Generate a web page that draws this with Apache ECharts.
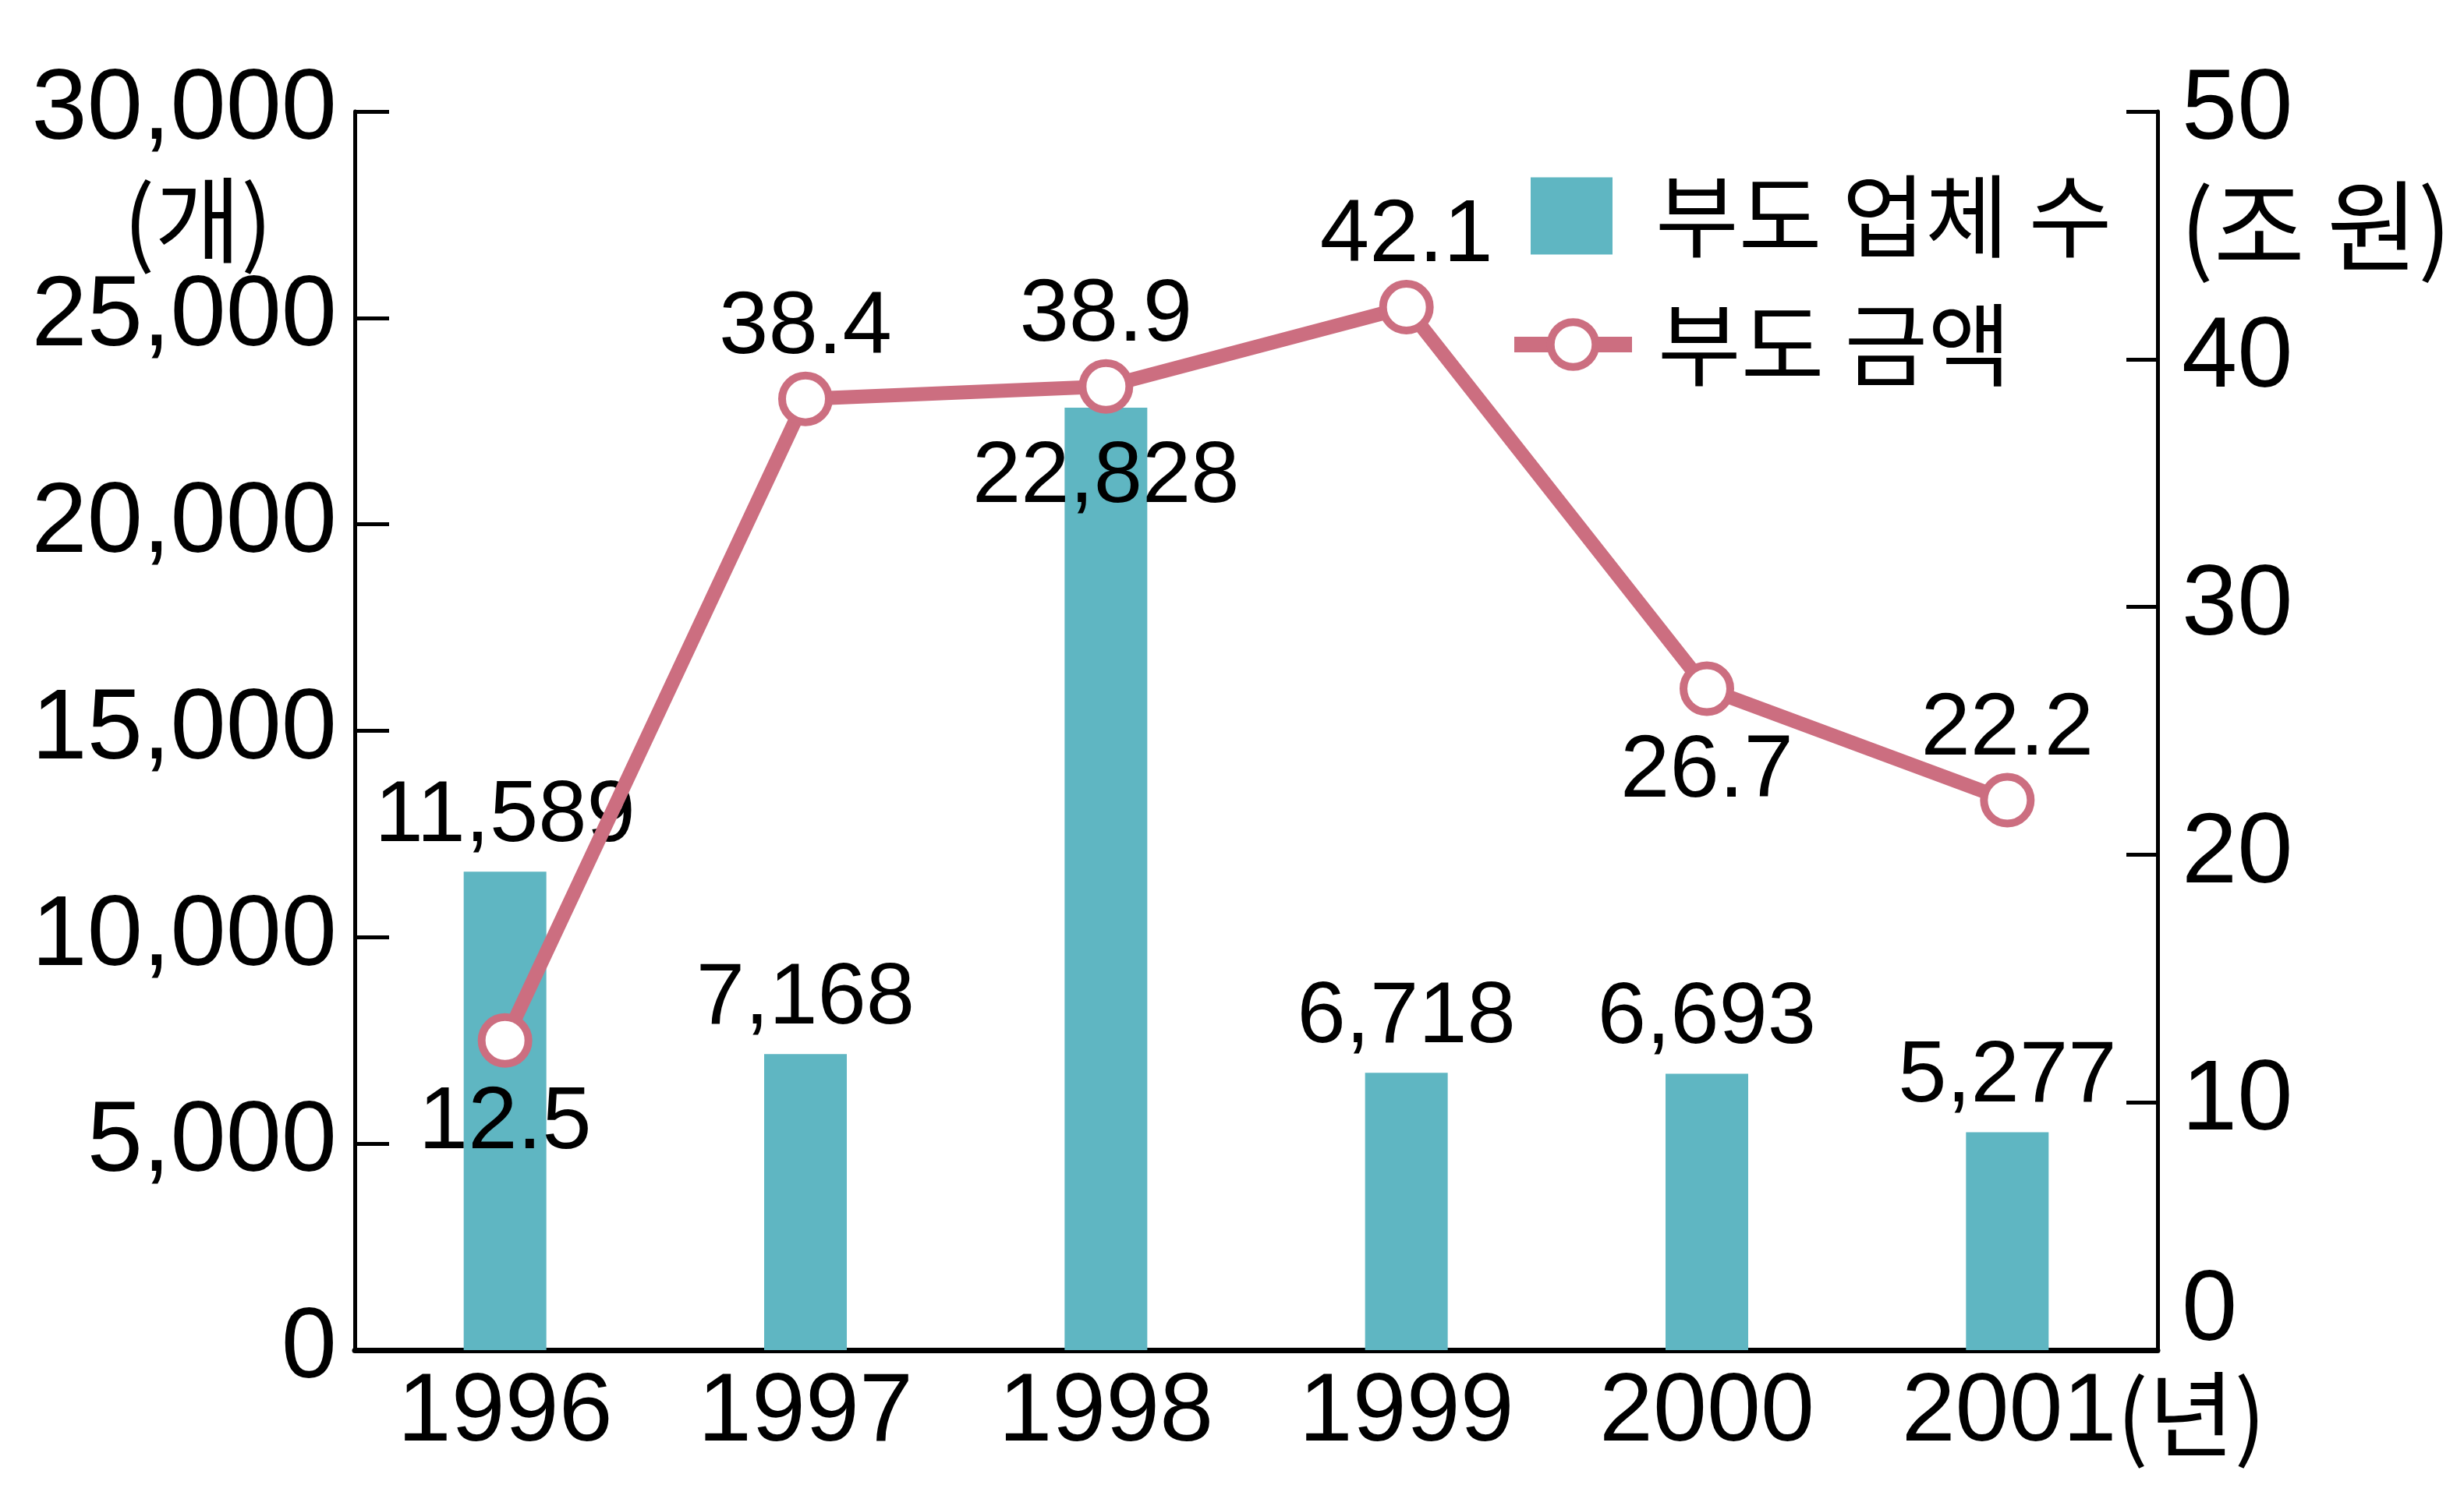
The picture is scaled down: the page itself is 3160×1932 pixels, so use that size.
<!DOCTYPE html>
<html><head><meta charset="utf-8">
<script src="https://cdn.jsdelivr.net/npm/echarts@6/dist/echarts.min.js"></script>
<style>html,body{margin:0;padding:0;background:#fff}#c{width:3160px;height:1932px}</style>
</head><body><div id="c"></div>
<script>
// ---- data ----
const categories = ['1996', '1997', '1998', '1999', '2000', '2001'];
const firmCounts = [11589, 7168, 22828, 6718, 6693, 5277];
const amounts = [12.5, 38.4, 38.9, 42.1, 26.7, 22.2];
const leftTicks = [0, 5000, 10000, 15000, 20000, 25000, 30000];
const rightTicks = [0, 10, 20, 30, 40, 50];
const seriesNames = ['부도 업체 수', '부도 금액'];
const unitLeft = '(개)';
const unitRight = '(조 원)';
const unitX = '(년)';

// ---- styles ----
const BAR = '#5fb6c2';
const PINK = '#cc6e80';
const NUM_FONT = 'Liberation Sans, Arial, Noto Sans CJK KR, sans-serif';
const KR_FONT = 'Noto Sans CJK KR, sans-serif';
const amountLabelPos = ['bottom', 'top', 'top', 'top', 'bottom', 'top'];
const insideBarLabel = [false, false, true, false, false, false];

const fmt = v => Number(v).toLocaleString('en-US');

const barData = firmCounts.map((v, i) => insideBarLabel[i]
  ? { value: v, label: { position: 'insideTop', distance: 34 } }
  : { value: v });
const lineData = amounts.map((v, i) => ({
  value: v,
  label: { position: amountLabelPos[i], distance: amountLabelPos[i] === 'top' ? -2 : 15 }
}));

const chart = echarts.init(document.getElementById('c'), null, { renderer: 'canvas' });
chart.setOption({
  animation: false,
  backgroundColor: '#fff',
  grid: { left: 455, right: 393, top: 143, bottom: 200, containLabel: false },
  title: [
    { text: unitLeft, left: 158, top: 222, padding: 0,
      textStyle: { fontSize: 120, fontWeight: 'normal', fontFamily: KR_FONT, color: '#000' } },
    { text: unitRight, left: 2796, top: 226, padding: 0,
      textStyle: { fontSize: 127, fontWeight: 'normal', fontFamily: KR_FONT, color: '#000' } }
  ],
  legend: [
    { data: [{ name: seriesNames[0], icon: 'rect' }], left: 1963, top: 219, padding: 0,
      itemWidth: 105, itemHeight: 99, selectedMode: false,
      textStyle: { fontSize: 116, fontFamily: KR_FONT, color: '#000', padding: [0, 0, 0, 50] } },
    { data: [{ name: seriesNames[1] }], left: 1932, top: 384, padding: 0,
      itemWidth: 151, itemHeight: 72, selectedMode: false,
      itemStyle: { color: '#fff', borderColor: PINK, borderWidth: 10 },
      lineStyle: { color: PINK, width: 20 },
      textStyle: { fontSize: 116, fontFamily: KR_FONT, color: '#000', padding: [0, 0, 0, 28] } }
  ],
  xAxis: {
    type: 'category',
    data: categories,
    axisLine: { lineStyle: { color: '#000', width: 7 } },
    axisTick: { show: false },
    splitLine: { show: false },
    axisLabel: {
      fontSize: 124, fontFamily: NUM_FONT, color: '#000', margin: 20, interval: 0,
      formatter: (v, i) => i === categories.length - 1 ? '{s|}' + v + '{u|' + unitX + '}' : v,
      rich: { s: { width: 196 }, u: { fontSize: 120, fontFamily: KR_FONT, color: '#000' } }
    }
  },
  yAxis: [
    {
      type: 'value', min: leftTicks[0], max: leftTicks[leftTicks.length - 1],
      interval: leftTicks[1] - leftTicks[0],
      axisLine: { show: true, lineStyle: { color: '#000', width: 5 } },
      axisTick: { show: true, inside: true, length: 44, lineStyle: { color: '#000', width: 5 } },
      splitLine: { show: false },
      axisLabel: { fontSize: 128, fontFamily: NUM_FONT, color: '#000', margin: 23, formatter: fmt }
    },
    {
      type: 'value', position: 'right', min: rightTicks[0], max: rightTicks[rightTicks.length - 1],
      interval: rightTicks[1] - rightTicks[0],
      axisLine: { show: true, lineStyle: { color: '#000', width: 5 } },
      axisTick: { show: true, inside: true, length: 40, lineStyle: { color: '#000', width: 5 } },
      splitLine: { show: false },
      axisLabel: {
        fontSize: 128, fontFamily: NUM_FONT, color: '#000', margin: 31,
        formatter: v => v === rightTicks[0] ? '{z|' + v + '}\n{g| }' : String(v),
        rich: {
          z: { fontSize: 128, fontFamily: NUM_FONT, color: '#000', height: 128 },
          g: { fontSize: 10, height: 96 }
        }
      }
    }
  ],
  series: [
    {
      name: seriesNames[0], type: 'bar', yAxisIndex: 0, data: barData,
      barWidth: 106, itemStyle: { color: BAR },
      label: { show: true, position: 'top', distance: 14, fontSize: 112, fontFamily: NUM_FONT,
        color: '#000', formatter: p => fmt(p.value) }
    },
    {
      name: seriesNames[1], type: 'line', yAxisIndex: 1, data: lineData, z: 3,
      symbol: 'circle', symbolSize: 60,
      itemStyle: { color: '#fff', borderColor: PINK, borderWidth: 10 },
      lineStyle: { color: PINK, width: 18 },
      label: { show: true, fontSize: 114, fontFamily: NUM_FONT, color: '#000',
        formatter: p => String(p.value) }
    }
  ]
});
</script>
</body></html>
